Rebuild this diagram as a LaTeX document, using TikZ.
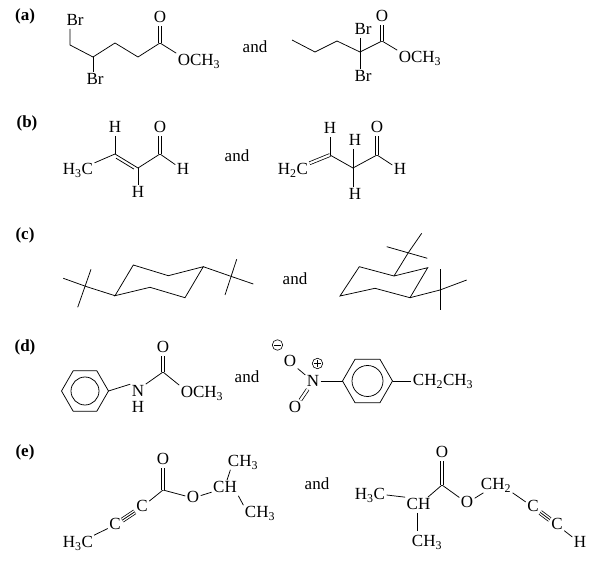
\documentclass[tikz,border=0pt]{standalone}
\usepackage{fontspec}
\setmainfont{Liberation Serif}
\begin{document}
\begin{tikzpicture}[x=1pt,y=-1pt,line width=0.75pt,
  every node/.style={inner sep=1.2pt,font=\fontsize{17}{20}\selectfont,text height=11pt,text depth=1.5pt},
  lbl/.style={font=\fontsize{17}{20}\selectfont\bfseries},
  dbl/.style={double,double distance=2.2pt},
  tpl/.style={double,double distance=3.6pt},
  plus/.style={circle,draw,inner sep=0pt,minimum size=10.5pt,text height=,text depth=,line width=0.6pt,
    path picture={\draw ([xshift=2pt]path picture bounding box.west) -- ([xshift=-2pt]path picture bounding box.east);
      \draw ([yshift=-2pt]path picture bounding box.north) -- ([yshift=2pt]path picture bounding box.south);}},
  minus/.style={circle,draw,inner sep=0pt,minimum size=10.5pt,text height=,text depth=,line width=0.6pt,
    path picture={\draw ([xshift=2pt]path picture bounding box.west) -- ([xshift=-2pt]path picture bounding box.east);}}]
\useasboundingbox (0,0) rectangle (611,577);

\node[lbl] (la) at (25,16) {(a)};
\node (br1) at (75,21) {Br};
\coordinate (a1) at (70,45);
\coordinate (a2) at (93,57);
\node (br2) at (95,80) {Br};
\coordinate (a3) at (115,43);
\coordinate (a4) at (138,57);
\coordinate (a5) at (160,43);
\node (o1) at (160,18) {O};
\node (och1) at (199,61) {OCH\textsubscript{3}};
\draw (br1.south -| a1) -- (a1) -- (a2) -- (a3) -- (a4) -- (a5) -- (och1.north west);
\draw (a2) -- (br2.north -| a2);
\draw[dbl] (a5) -- (o1);
\node (and1) at (255,48) {and};
\coordinate (b1) at (292,40);
\coordinate (b2) at (315,52);
\coordinate (b3) at (337,41);
\coordinate (b4) at (360,52);
\node (br3) at (363,30) {Br};
\node (br4) at (363,77) {Br};
\coordinate (b5) at (382,41);
\node (o2) at (382,17) {O};
\node (och2) at (420,58) {OCH\textsubscript{3}};
\draw (b1) -- (b2) -- (b3) -- (b4) -- (b5) -- (och2.north west);
\draw (br3.south -| b4) -- (br4.north -| b4);
\draw[dbl] (b5) -- (o2);

\node[lbl] (lb) at (27,123) {(b)};
\node (h3c1) at (78,170) {H\textsubscript{3}C};
\coordinate (e1) at (115,154);
\node (h1) at (115,128) {H};
\coordinate (e2) at (138,168);
\node (h2) at (138,193) {H};
\coordinate (e3) at (160,154);
\node (o3) at (160,128) {O};
\node (h3) at (183,170) {H};
\draw (h3c1) -- (e1) -- (e2) -- (e3) -- (h3);
\draw[shorten <=3pt,shorten >=3pt] ([xshift=-1.6pt,yshift=-2.6pt]e1) -- ([xshift=-1.6pt,yshift=-2.6pt]e2);
\draw (e1) -- (h1);
\draw (e2) -- (h2);
\draw[dbl] (e3) -- (o3);
\node (and2) at (237,157) {and};
\node (h2c) at (293,170) {H\textsubscript{2}C};
\coordinate (f1) at (330,155);
\node (h4) at (330,129) {H};
\coordinate (f2) at (353,168);
\node (h5) at (355,141) {H};
\node (h6) at (355,195) {H};
\coordinate (f3) at (377,155);
\node (o4) at (377,128) {O};
\node (h7) at (400,170) {H};
\draw[dbl] (h2c) -- (f1);
\draw (f1) -- (f2) -- (f3) -- (h7);
\draw (f1) -- (h4);
\draw (h5.south -| f2) -- (h6.north -| f2);
\draw[dbl] (f3) -- (o4);

\node[lbl] (lc) at (25,235) {(c)};
\coordinate (ca) at (115,295.7);
\coordinate (cb) at (133.3,265);
\coordinate (cc) at (168.3,275.7);
\coordinate (cd) at (203.3,266.7);
\coordinate (ce) at (185,297.7);
\coordinate (cf) at (150,287.3);
\draw (ca) -- (cb) -- (cc) -- (cd) -- (ce) -- (cf) -- cycle;
\coordinate (q1) at (86.7,286.7);
\coordinate (m1) at (63.3,278.3);
\coordinate (m2) at (91,269.3);
\coordinate (m3) at (77.7,307.3);
\draw (ca) -- (q1) -- (m1);
\draw (m2) -- (m3);
\coordinate (q2) at (230,276);
\coordinate (m4) at (253.3,284);
\coordinate (m5) at (236.7,259.3);
\coordinate (m6) at (225,295);
\draw (cd) -- (q2) -- (m4);
\draw (m5) -- (m6);
\node (and3) at (295,280) {and};
\coordinate (ra) at (340,296);
\coordinate (rb) at (359.3,266.7);
\coordinate (rc) at (394,276);
\coordinate (rd) at (427.7,267.7);
\coordinate (re) at (410,297.7);
\coordinate (rf) at (375,288.3);
\draw (ra) -- (rb) -- (rc) -- (rd) -- (re) -- (rf) -- cycle;
\coordinate (q3) at (408.3,252.7);
\coordinate (m7) at (421.7,233.3);
\coordinate (m8) at (386.7,246.7);
\coordinate (m9) at (427.3,258.3);
\draw (rc) -- (q3) -- (m7);
\draw (m8) -- (m9);
\coordinate (q4) at (440,290);
\coordinate (m10) at (466.7,280);
\coordinate (m11) at (440,269.3);
\coordinate (m12) at (440,310);
\draw (re) -- (q4) -- (m10);
\draw (m11) -- (m12);

\node[lbl] (ld) at (25,347) {(d)};
\coordinate (bz1) at (85,391);
\coordinate (r1e) at (108.5,391);
\draw (r1e) -- ++(120:23.5) -- ++(180:23.5) -- ++(240:23.5) -- ++(300:23.5) -- ++(0:23.5) -- cycle;
\draw (bz1) circle (14pt);
\node (n1) at (138,392) {N};
\node (hn) at (138,408) {H};
\coordinate (cc1) at (163,372);
\node (o5) at (163,348) {O};
\node (och3) at (202,393) {OCH\textsubscript{3}};
\draw (r1e) -- (n1.north west);
\draw (n1.north east) -- (cc1) -- (och3.north west);
\draw[dbl] (cc1) -- (o5);
\node (and4) at (247,378) {and};
\node (o6) at (290,362) {O};
\node[minus] (neg) at (277.5,345) {};
\node (n2) at (313,381.5) {N};
\node[plus] (pos) at (317.5,363.5) {};
\node (o7) at (295,408) {O};
\coordinate (bz2) at (367.5,381);
\coordinate (r2w) at (342.5,381);
\coordinate (r2e) at (392.5,381);
\draw (r2e) -- ++(120:25) -- ++(180:25) -- ++(240:25) -- ++(300:25) -- ++(0:25) -- cycle;
\draw (bz2) circle (15.5pt);
\node (et) at (443,381) {CH\textsubscript{2}CH\textsubscript{3}};
\draw (o6) -- (n2);
\draw[dbl] (n2) -- (o7);
\draw (n2.east |- r2w) -- (r2w);
\draw (r2e) -- (et.west);

\node[lbl] (le) at (25,452) {(e)};
\node (h3c2) at (78,543) {H\textsubscript{3}C};
\node (ct1) at (115,525) {C};
\node (ct2) at (142,507) {C};
\coordinate (ce1) at (163,490);
\node (o8) at (163,460) {O};
\node (o9) at (193,498) {O};
\node (ch1) at (225,488) {CH};
\node (ch3a) at (243,462) {CH\textsubscript{3}};
\node (ch3b) at (260,513) {CH\textsubscript{3}};
\draw (h3c2) -- (ct1);
\draw[tpl] (ct1) -- (ct2);
\draw (ct1) -- (ct2);
\draw (ct2) -- (ce1) -- (o9) -- (ch1);
\draw[dbl] (ce1) -- (o8);
\draw ([xshift=2pt]ch1.north) -- ([xshift=4pt]ch3a.south west);
\draw (ch1.south east) -- (ch3b.north west);
\node (and5) at (317,485) {and};
\node (h3c3) at (370,495) {H\textsubscript{3}C};
\node (ch2) at (418.5,505) {CH};
\node (ch3c) at (427,542) {CH\textsubscript{3}};
\coordinate (ce2) at (442,485);
\node (o10) at (442,453) {O};
\node (o11) at (467,503) {O};
\node (ch2b) at (496,485) {CH\textsubscript{2}};
\node (ct3) at (533,507) {C};
\node (ct4) at (557,525) {C};
\node (h8) at (580,543) {H};
\draw (h3c3.east) -- (ch2.north west);
\draw ([xshift=-4pt]ch2.north east) -- (ce2) -- (o11) -- (ch2b);
\draw[shorten >=3pt] ([xshift=-1pt]ch2.south) -- ([xshift=-1pt]ch2.south |- ch3c.north);
\draw[dbl] (ce2) -- (o10);
\draw (ch2b.south east) -- (ct3);
\draw[tpl] (ct3) -- (ct4);
\draw (ct3) -- (ct4);
\draw (ct4) -- (h8);
\end{tikzpicture}
\end{document}
